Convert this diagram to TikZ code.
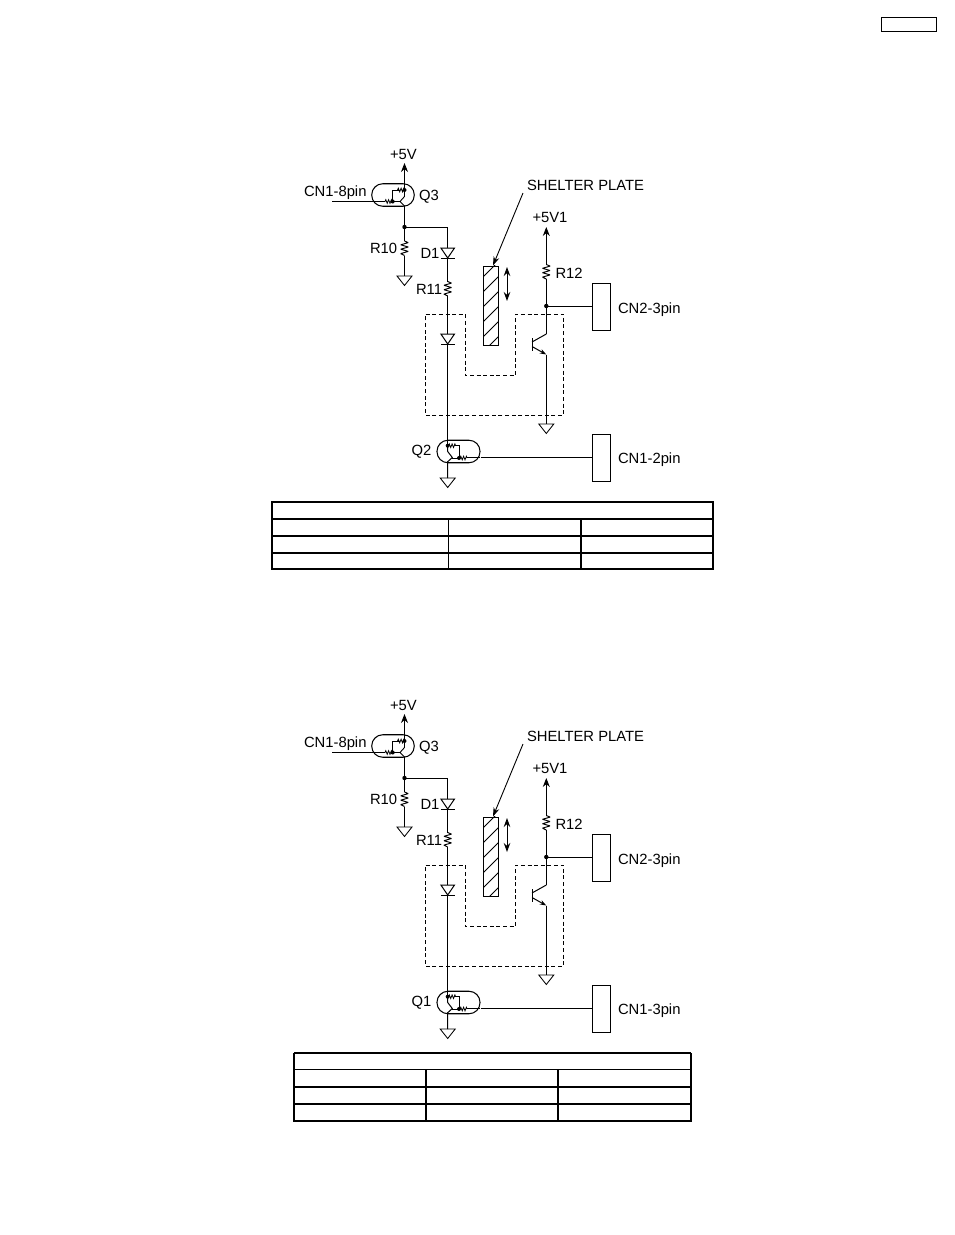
\documentclass[tikz,border=0pt]{standalone}
\usepackage{fontspec}
\setmainfont{Liberation Sans}
\usetikzlibrary{arrows.meta}
\tikzset{
  wire/.style={line width=1pt,line join=miter},
  arrowwire/.style={wire,-{Stealth[length=9pt,width=7pt]}},
  lbl/.style={anchor=base west,inner sep=0pt,outer sep=0pt,font=\fontsize{14.8pt}{16pt}\selectfont,text=black},
  tbl/.style={line width=1.7pt,draw=black},
  tblthin/.style={line width=1.1pt,draw=black},
  pinbox/.style={draw,line width=1pt,fill=white,minimum width=18.5pt,minimum height=47.5pt,inner sep=0pt},
  pill/.style={draw,line width=1.05pt,rounded corners=11pt,minimum height=22.5pt,inner sep=0pt},
  gnd/.pic={\draw[line width=0.85pt] (-7.5,0)--(7.5,0)--(0,9.5)--cycle;},
  diode/.pic={\draw[wire] (-6.8,0)--(6.8,0)--(0,10)--cycle; \draw[wire] (-6.8,10)--(6.8,10);},
  resv/.pic={\draw[line width=0.95pt,line join=bevel] (0,0)--(3.8,1.6)--(-3.8,3.8)--(3.8,6)--(-3.8,8.2)--(3.8,10.4)--(-3.8,12.6)--(0,14.5);},
  resh/.pic={\draw[line width=0.8pt] (0,0)--(0.8,-1.8)--(2.2,1.8)--(3.6,-1.8)--(5,1.8)--(6.4,-1.8)--(7.2,0);},
}
\newcommand{\onecircuit}[4]{%
 \begin{scope}[shift={(0,#2)},name prefix=#1-]
  \coordinate (top5) at (404.5,163);
  \coordinate (j1) at (404.5,227);
  \coordinate (r10a) at (404.5,241);
  \coordinate (gnd1) at (404.5,276);
  \coordinate (corner) at (447.7,227);
  \coordinate (d1) at (447.7,248);
  \coordinate (r11a) at (447.7,281.5);
  \coordinate (d2) at (447.7,334);
  \coordinate (q2top) at (447.7,445.7);
  \coordinate (q2a) at (447.7,451.5);
  \coordinate (q2b) at (447.7,461.7);
  \coordinate (gnd2) at (447.7,478);
  \coordinate (top51) at (546.3,227);
  \coordinate (r12a) at (546.3,264.5);
  \coordinate (j2) at (546.3,306);
  \coordinate (col) at (546.3,334);
  \coordinate (emi) at (546.3,354.5);
  \coordinate (gnd3) at (546.3,424);
  \coordinate (in) at (332,201.5);
  \node[pill,minimum width=42.5pt] (q3) at (393,195) {};
  \node[pill,minimum width=43pt] (q2) at (458.5,451.5) {};
  \node[pinbox] (cn2) at (601.5,307) {};
  \node[pinbox] (cn1) at (601.5,458) {};
  \draw[arrowwire] (404.5,196.5) -- (top5);
  \draw[wire] (404.5,206) -- (j1);
  \draw[wire] (j1) -- (r10a);
  \draw[wire] (404.5,255.5) -- (gnd1);
  \draw[wire] (j1) -- (corner) -- (d1);
  \draw[wire] (447.7,258) -- (r11a);
  \draw[wire] (447.7,296) -- (d2);
  \draw[wire] (447.7,344) -- (q2top);
  \draw[wire] (q2top) -- (q2a) -- (452.3,457.5) -- (q2b) -- (gnd2);
  \draw[arrowwire] (r12a) -- (top51);
  \draw[wire] (546.3,279) -- (j2) -- (col);
  \draw[wire] (emi) -- (gnd3);
  \draw[wire] (j2) -- (j2 -| cn2.west);
  \draw[wire] (q2.east |- 0,457.5) -- (cn1.west |- 0,457.5);
  \draw[wire] (in) -- (385,201.5);
  \fill (j1) circle (2.2pt);
  \fill (j2) circle (2.2pt);
  \pic at (gnd1) {gnd};
  \pic at (gnd2) {gnd};
  \pic at (gnd3) {gnd};
  \pic at (d1) {diode};
  \pic at (d2) {diode};
  \pic at (r10a) {resv};
  \pic at (r11a) {resv};
  \pic at (r12a) {resv};
  % Q3 internals
  \draw[line width=0.85pt] (392.7,201.5) -- (392.7,190) -- (399,190);
  \draw[line width=0.85pt] (392.7,201.5) -- (400,201.5);
  \draw[line width=0.9pt] (404.5,196.5) -- (400,201.5) -- (404.5,206);
  \pic at (385,201.5) {resh};
  \pic at (397.5,190) {resh};
  \fill (392.7,201.5) circle (2pt);
  \fill (404.5,190) circle (2pt);
  % Q2 internals
  \draw[line width=0.85pt] (454,445.7) -- (459,445.7) -- (459,458) -- (452.3,458);
  \draw[wire] (467,457.5) -- (480,457.5);
  \pic at (448.5,445.7) {resh};
  \pic at (460,458) {resh};
  \fill (447.7,445.7) circle (2pt);
  \fill (459,458) circle (2pt);
  % phototransistor
  \draw[wire] (532,338) -- (532,350.5);
  \draw[wire] (532,342) -- (col);
  \draw[wire,-{Stealth[length=6.5pt,width=4.5pt]}] (532,346.5) -- (emi);
  % dashed
  \draw[line width=0.85pt,dash pattern=on 4pt off 2.6pt] (425.7,314) -- (465,314) -- (465,375.3) -- (515.7,375.3) -- (515.7,314) -- (563.3,314) -- (563.3,415.3) -- (425.7,415.3) -- cycle;
  % plate
  \node[draw,line width=0.85pt,minimum width=14.5pt,minimum height=79pt,inner sep=0pt] (plate) at (490.7,305.5) {};
  \begin{scope}
   \clip (plate.south west) rectangle (plate.north east);
   \foreach \k in {0,...,6} {\draw[line width=0.8pt] (483,{277+\k*15}) -- (500,{260+\k*15});}
  \end{scope}
  \coordinate (lead) at (523,193);
  \coordinate (platehit) at (493,265.5);
  \draw[line width=0.9pt,-{Stealth[length=9pt,width=6pt]}] (lead) -- (platehit);
  \draw[line width=1pt,{Stealth[length=9pt,width=6.5pt]}-{Stealth[length=9pt,width=6.5pt]}] (507,267) -- (507,301);
  \node[lbl] (t5v) at (390,159.5) {+5V};
  \node[lbl] (tcn8) at (304,196) {CN1-8pin};
  \node[lbl] (tq3) at (419,200.5) {Q3};
  \node[lbl] (tr10) at (370,253.5) {R10};
  \node[lbl] (td1) at (420.5,258.5) {D1};
  \node[lbl] (tr11) at (416,294.5) {R11};
  \node[lbl] (tsh) at (527,190) {SHELTER PLATE};
  \node[lbl] (t5v1) at (532.5,222) {+5V1};
  \node[lbl] (tr12) at (555.5,278) {R12};
  \node[lbl] (tcn2) at (618,313) {CN2-3pin};
  \node[lbl] (tcn1) at (618,463) {#4};
  \node[lbl] (tq) at (411.5,455) {#3};
 \end{scope}}
\begin{document}
\begin{tikzpicture}[x=1pt,y=-1pt]
 \useasboundingbox (0,0) rectangle (954,1235);
 \fill[white] (0,0) rectangle (954,1235);
 \node[draw,line width=1.1pt,minimum width=55pt,minimum height=13.7pt,inner sep=0pt] (hdr) at (908.8,24.2) {};
 \onecircuit{a}{0}{Q2}{CN1-2pin}
 \onecircuit{b}{551}{Q1}{CN1-3pin}
 % table 1
 \draw[tbl] (272.3,502.3) rectangle (713.3,569);
 \foreach \y in {519,536,552.7} {\draw[tbl] (272.3,\y) -- (713.3,\y);}
 \draw[tblthin] (448.3,519) -- (448.3,569);
 \draw[tbl] (580.7,519) -- (580.7,569);
 % table 2
 \draw[tbl] (294,1053) -- (294,1121) -- (691,1121) -- (691,1053);
 \draw[tblthin] (294,1053) -- (691,1053);
 \draw[tblthin] (294,1069.5) -- (691,1069.5);
 \foreach \y in {1086.7,1104} {\draw[tbl] (294,\y) -- (691,\y);}
 \draw[tblthin] (426,1069.5) -- (426,1121);
 \draw[tbl] (558,1069.5) -- (558,1121);
\end{tikzpicture}
\end{document}
